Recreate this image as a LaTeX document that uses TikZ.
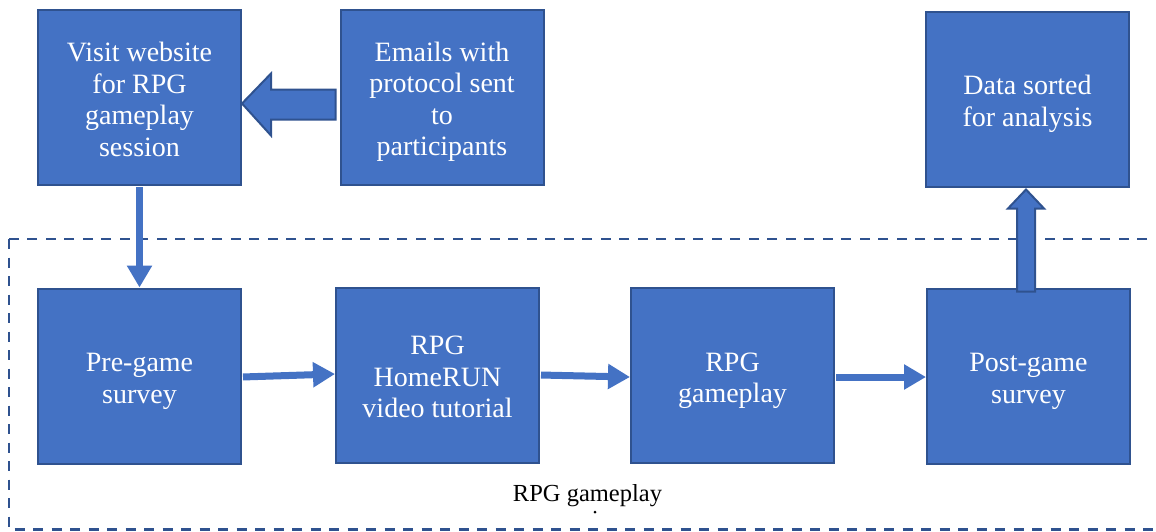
\documentclass[tikz,border=0pt]{standalone}
\usepackage{fontspec}
\setmainfont{Liberation Serif}
\usetikzlibrary{arrows.meta,calc}
\definecolor{boxfill}{HTML}{4472C4}
\definecolor{boxedge}{HTML}{2F528F}
% centred lines of a step box, set a little below the box centre
\newcommand\steplines[1]{\raisebox{-5pt}[\height][\depth]{\begin{tabular}{@{}c@{}}#1\end{tabular}}}
\tikzset{
  stepbox/.style={draw=boxedge, line width=2pt, fill=boxfill, text=white,
    font=\fontsize{28}{31.5}\selectfont,
    minimum width=203pt, minimum height=175pt, inner sep=0pt},
  flow/.style={draw=boxfill, line width=7pt, shorten <=1pt,
    -{Triangle[length=22pt,width=24pt]}},
  blockarrow/.style={draw=boxedge, line width=2pt, fill=boxfill, line join=miter},
  groupframe/.style={draw=boxedge, line width=2.2pt, dash pattern=on 10pt off 8.5pt},
}
\begin{document}
\begin{tikzpicture}[x=1pt, y=-1pt]
  \useasboundingbox (0,0) rectangle (1156,531);

  % dashed group around the gameplay steps
  \draw[groupframe] (9,239) rectangle (1157,529.5);

  % process steps
  \node[stepbox] (visit)  at (139.5,97.5) {\steplines{Visit website\\for RPG\\gameplay\\session}};
  \node[stepbox] (emails) at (442,97)     {\steplines{Emails with\\protocol sent\\to\\participants}};
  \node[stepbox] (data)   at (1027.5,99)  {\steplines{Data sorted\\for analysis}};
  \node[stepbox] (pre)    at (139.5,376)  {\steplines{Pre-game\\survey}};
  \node[stepbox] (home)   at (437.5,375)  {\steplines{RPG\\HomeRUN\\video tutorial}};
  \node[stepbox] (game)   at (732.5,375.5){\steplines{RPG\\gameplay}};
  \node[stepbox] (post)   at (1028.5,376) {\steplines{Post-game\\survey}};

  % group label
  \node[font=\fontsize{24.5}{29}\selectfont] (glabel) at (587.5,496) {RPG gameplay};
  \fill (595,512) circle (1.5pt);

  % block arrow: emails -> visit
  \coordinate (lt) at ($(visit.east)+(0,6)$);
  \draw[blockarrow] (lt) -- ++(29,-30) -- ++(0,16)
    -- ($(emails.west |- lt)+(-4,-14)$) -- ++(0,30)
    -- ($(lt)+(29,16)$) -- ++(0,16) -- cycle;

  % block arrow: post-game survey -> data
  \coordinate (ut) at ($(data.south)+(-1.5,2)$);
  \draw[blockarrow] (ut) -- ++(18,19) -- ++(-9,0)
    -- ($(post.north -| ut)+(9,4)$) -- ++(-18,0)
    -- ($(ut)+(-9,19)$) -- ++(-9,0) -- cycle;

  % flow arrows
  \draw[flow] (visit.south) -- (pre.north);
  \draw[flow] ($(pre.east)+(0,1)$) -- ($(home.west)+(0,-1)$);
  \draw[flow] (home.east) -- ($(game.west)+(0,1.5)$);
  \draw[flow] ($(game.east)+(0,1.5)$) -- ($(post.west)+(0,1)$);
\end{tikzpicture}
\end{document}
